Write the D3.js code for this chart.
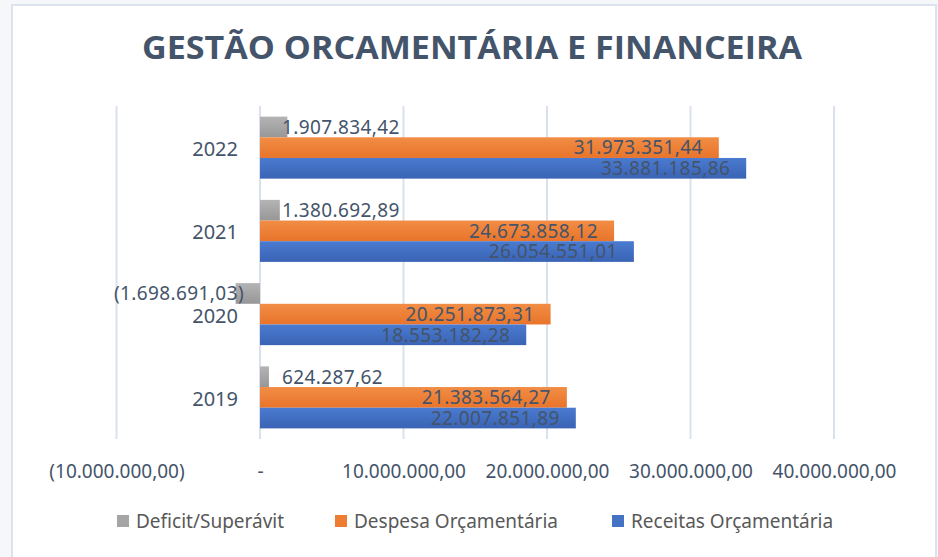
<!DOCTYPE html>
<html>
<head>
<meta charset="utf-8">
<script src="https://cdn.jsdelivr.net/npm/d3@7"></script>
<style>
  body { margin: 0; background: #f6f7f9; }
  svg { display: block; }
</style>
</head>
<body>
<div id="chart"></div>
<script>
// Data
const years = ["2022", "2021", "2020", "2019"];
const deficit = [1907834.42, 1380692.89, -1698691.03, 624287.62];
const despesa = [31973351.44, 24673858.12, 20251873.31, 21383564.27];
const receitas = [33881185.86, 26054551.01, 18553182.28, 22007851.89];
const seriesNames = ["Deficit/Superávit", "Despesa Orçamentária", "Receitas Orçamentária"];
const tickValues = [-10000000, 0, 10000000, 20000000, 30000000, 40000000];

const width = 938, height = 557;
const textColor = "#44546a";

const br = d3.formatLocale({ decimal: ",", thousands: ".", grouping: [3], currency: ["", ""] });
const fmt = br.format(",.2f");
function fmtAcct(v) {
  if (v === 0) return "-";
  return v < 0 ? "(" + fmt(-v) + ")" : fmt(v);
}

const svg = d3.select("#chart").append("svg")
  .attr("width", width)
  .attr("height", height);

// gradients for the bars
const defs = svg.append("defs");
const colors = [
  { id: "gGrey", top: "#b4b4b4", bot: "#979797" },
  { id: "gOrange", top: "#f28d45", bot: "#e8742a" },
  { id: "gBlue", top: "#4a7bd0", bot: "#3a63b4" }
];
colors.forEach(c => {
  const g = defs.append("linearGradient").attr("id", c.id)
    .attr("x1", 0).attr("y1", 0).attr("x2", 0).attr("y2", 1);
  g.append("stop").attr("offset", "0%").attr("stop-color", c.top);
  g.append("stop").attr("offset", "100%").attr("stop-color", c.bot);
});
const legendColors = ["#a5a5a5", "#ed7d31", "#4472c4"];

// chart frame
svg.append("rect")
  .attr("x", 12).attr("y", 5)
  .attr("width", 924).attr("height", 570)
  .attr("fill", "#fff")
  .attr("stroke", "#dde3ee")
  .attr("stroke-width", 2);

// title
svg.append("text")
  .attr("x", 472).attr("y", 59)
  .attr("text-anchor", "middle")
  .attr("font-family", "Open Sans")
  .attr("font-weight", "bold")
  .attr("font-size", 32)
  .attr("textLength", 660)
  .attr("lengthAdjust", "spacingAndGlyphs")
  .attr("fill", textColor)
  .text("GESTÃO ORCAMENTÁRIA E FINANCEIRA");

// scales
const x = d3.scaleLinear().domain([-10000000, 40000000]).range([116.5, 834]);
const y = d3.scaleBand().domain(years).range([106, 439])
  .paddingInner(0.255).paddingOuter(0.1275);
const ySub = d3.scaleBand().domain(d3.range(3)).range([0, y.bandwidth()]);

// gridlines
svg.append("g")
  .selectAll("line")
  .data(tickValues)
  .join("line")
  .attr("x1", d => x(d)).attr("x2", d => x(d))
  .attr("y1", 106).attr("y2", 439)
  .attr("stroke", "#dbe1ec")
  .attr("stroke-width", 2);

// x axis labels
const xAxis = svg.append("g")
  .attr("transform", "translate(0,475)")
  .call(d3.axisBottom(x).tickValues(tickValues).tickFormat(fmtAcct).tickSize(0));
xAxis.select(".domain").remove();
xAxis.selectAll("text")
  .attr("font-family", "Noto Sans")
  .attr("font-size", 19)
  .attr("fill", textColor)
  .attr("dy", 0);

// y axis labels (years)
const yAxis = svg.append("g")
  .attr("transform", "translate(238,0)")
  .call(d3.axisLeft(y).tickSize(0).tickPadding(0));
yAxis.select(".domain").remove();
yAxis.selectAll("text")
  .attr("font-family", "Noto Sans")
  .attr("font-size", 20)
  .attr("fill", textColor)
  .attr("dy", "0.42em");

// bars
const allSeries = [deficit, despesa, receitas];
const fills = ["url(#gGrey)", "url(#gOrange)", "url(#gBlue)"];

allSeries.forEach((vals, s) => {
  const g = svg.append("g");
  g.selectAll("rect")
    .data(vals)
    .join("rect")
    .attr("x", d => x(Math.min(0, d)))
    .attr("width", d => Math.abs(x(d) - x(0)))
    .attr("y", (d, i) => y(years[i]) + ySub(s))
    .attr("height", ySub.bandwidth())
    .attr("fill", fills[s]);

  g.selectAll("text")
    .data(vals)
    .join("text")
    .attr("x", d => {
      // deficit labels sit next to the zero line, others inside the bar end
      if (s === 0) return d < 0 ? x(0) - 16 : x(0) + 22;
      return x(d) - 16;
    })
    .attr("y", (d, i) => y(years[i]) + ySub(s) + ySub.bandwidth() / 2)
    .attr("dy", "0.36em")
    .attr("text-anchor", d => (s === 0 && d >= 0) ? "start" : "end")
    .attr("font-family", "Noto Sans")
    .attr("font-size", 19)
    .attr("letter-spacing", 0.4)
    .attr("fill", textColor)
    .text(d => fmtAcct(d));
});

// legend
const legendX = [117, 335, 612];
const legend = svg.append("g").attr("transform", "translate(0,521)");
seriesNames.forEach((name, i) => {
  legend.append("rect")
    .attr("x", legendX[i]).attr("y", -6)
    .attr("width", 12).attr("height", 12)
    .attr("fill", legendColors[i]);
  legend.append("text")
    .attr("x", legendX[i] + 19).attr("y", 0)
    .attr("dy", "0.36em")
    .attr("font-family", "Noto Sans")
    .attr("font-size", 19)
    .attr("fill", "#595959")
    .text(name);
});
</script>
</body>
</html>
